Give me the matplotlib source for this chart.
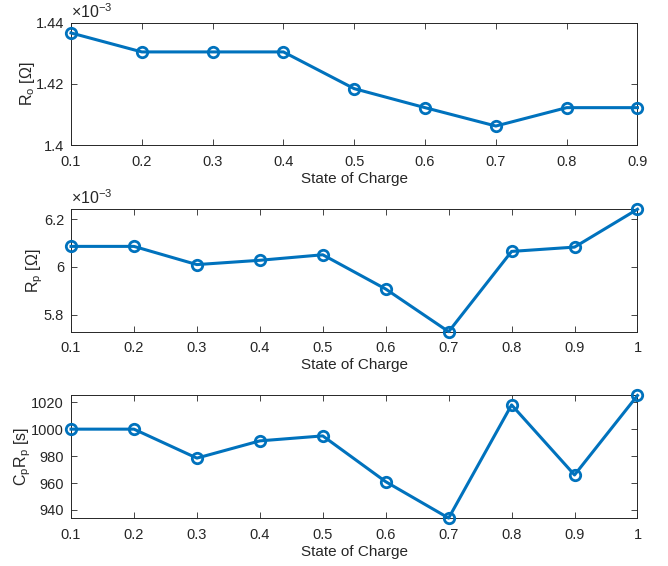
import matplotlib
matplotlib.use("Agg")
import matplotlib.pyplot as plt
from matplotlib.ticker import FuncFormatter

plt.rcParams['font.family'] = ['Liberation Sans', 'DejaVu Sans']
plt.rcParams['mathtext.fontset'] = 'custom'
plt.rcParams['mathtext.rm'] = 'Liberation Sans'
plt.rcParams['mathtext.it'] = 'Liberation Sans'

soc1 = [0.1, 0.2, 0.3, 0.4, 0.5, 0.6, 0.7, 0.8, 0.9]
ro_milli = [1.4366, 1.4304, 1.4304, 1.4304, 1.4184, 1.4122, 1.4062, 1.4122, 1.4122]
soc2 = [0.1, 0.2, 0.3, 0.4, 0.5, 0.6, 0.7, 0.8, 0.9, 1.0]
rp_milli = [6.086, 6.086, 6.010, 6.028, 6.051, 5.908, 5.730, 6.065, 6.083, 6.241]
tau = [1000, 1000, 978.5, 991.3, 995, 961, 934, 1018, 966, 1025]

ro = [v * 1e-3 for v in ro_milli]
rp = [v * 1e-3 for v in rp_milli]

xt1 = [0.1, 0.2, 0.3, 0.4, 0.5, 0.6, 0.7, 0.8, 0.9]
xtl1 = ['0.1', '0.2', '0.3', '0.4', '0.5', '0.6', '0.7', '0.8', '0.9']
xt2 = [0.1, 0.2, 0.3, 0.4, 0.5, 0.6, 0.7, 0.8, 0.9, 1.0]
xtl2 = ['0.1', '0.2', '0.3', '0.4', '0.5', '0.6', '0.7', '0.8', '0.9', '1']

color = '#0072BD'
dark = '#262626'

fig = plt.figure(figsize=(6.68, 5.66), dpi=100)
W = 0.848
L = 0.1063
ax1 = fig.add_axes([L, 0.7438, W, 0.2164])
ax2 = fig.add_axes([L, 0.4140, W, 0.2163])
ax3 = fig.add_axes([L, 0.0842, W, 0.2178])

def style(ax):
    ax.tick_params(direction='in', length=4, width=0.6, top=True, right=True,
                   colors=dark, labelsize=10.5, labelcolor=dark)
    ax.tick_params(axis='x', pad=7)
    ax.tick_params(axis='y', pad=5)
    for s in ax.spines.values():
        s.set_color(dark)
        s.set_linewidth(0.7)
    ax.set_xlabel('State of Charge', fontsize=11, color=dark, labelpad=2)

kw = dict(color=color, lw=2.2, marker='o', ms=7.5, mfc='none', mew=2.0, clip_on=False, zorder=3)

ax1.plot(soc1, ro, **kw)
ax1.set_xlim(0.1, 0.9)
ax1.set_ylim(1.4e-3, 1.44e-3)
ax1.set_xticks(xt1)
ax1.set_xticklabels(xtl1)
ax1.set_yticks([1.4e-3, 1.42e-3, 1.44e-3])
ax1.yaxis.set_major_formatter(FuncFormatter(lambda v, p: f'{v*1e3:g}'))
ax1.set_ylabel(r'R$_\mathrm{o}$ [$\Omega$]', fontsize=11.5, color=dark, labelpad=-1)
style(ax1)
ax1.text(0.0, 1.015, r'$\times10^{-3}$', transform=ax1.transAxes, fontsize=11.5, color=dark,
         ha='left', va='bottom')

ax2.plot(soc2, rp, **kw)
ax2.set_xlim(0.1, 1.0)
ax2.set_ylim(min(rp), max(rp))
ax2.set_xticks(xt2)
ax2.set_xticklabels(xtl2)
ax2.set_yticks([5.8e-3, 6.0e-3, 6.2e-3])
ax2.yaxis.set_major_formatter(FuncFormatter(lambda v, p: f'{round(v*1e3, 3):g}'))
ax2.set_ylabel(r'R$_\mathrm{p}$ [$\Omega$]', fontsize=11.5, color=dark, labelpad=-1)
style(ax2)
ax2.text(0.0, 1.015, r'$\times10^{-3}$', transform=ax2.transAxes, fontsize=11.5, color=dark,
         ha='left', va='bottom')

ax3.plot(soc2, tau, **kw)
ax3.set_xlim(0.1, 1.0)
ax3.set_ylim(min(tau) - 0.2, max(tau) + 0.3)
ax3.set_xticks(xt2)
ax3.set_xticklabels(xtl2)
ax3.set_yticks([940, 960, 980, 1000, 1020])
ax3.set_ylabel(r'C$_\mathrm{p}$R$_\mathrm{p}$ [s]', fontsize=11.5, color=dark, labelpad=-1)
style(ax3)

fig.savefig('out.png', dpi=100)
